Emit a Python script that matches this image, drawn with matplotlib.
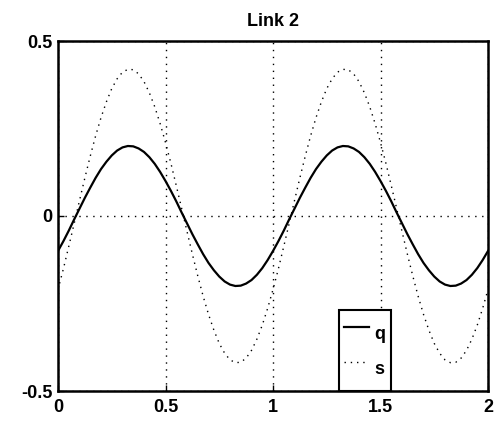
import matplotlib.pyplot as plt

# 数据：x 每 0.025 取一个点
x = [i * 0.025 for i in range(81)]

q = [-0.100, -0.072, -0.042, -0.010, 0.021, 0.052, 0.081, 0.109, 0.134, 0.155,
     0.173, 0.187, 0.196, 0.200, 0.199, 0.193, 0.183, 0.168, 0.149, 0.126,
     0.100, 0.072, 0.042, 0.010, -0.021, -0.052, -0.081, -0.109, -0.134, -0.155,
     -0.173, -0.187, -0.196, -0.200, -0.199, -0.193, -0.183, -0.168, -0.149, -0.126,
     -0.100, -0.072, -0.042, -0.010, 0.021, 0.052, 0.081, 0.109, 0.134, 0.155,
     0.173, 0.187, 0.196, 0.200, 0.199, 0.193, 0.183, 0.168, 0.149, 0.126,
     0.100, 0.072, 0.042, 0.010, -0.021, -0.052, -0.081, -0.109, -0.134, -0.155,
     -0.173, -0.187, -0.196, -0.200, -0.199, -0.193, -0.183, -0.168, -0.149, -0.126,
     -0.100]

s = [-0.210, -0.151, -0.087, -0.022, 0.044, 0.109, 0.171, 0.229, 0.281, 0.326,
     0.364, 0.392, 0.411, 0.419, 0.418, 0.406, 0.384, 0.352, 0.312, 0.264,
     0.210, 0.151, 0.087, 0.022, -0.044, -0.109, -0.171, -0.229, -0.281, -0.326,
     -0.364, -0.392, -0.411, -0.419, -0.418, -0.406, -0.384, -0.352, -0.312, -0.264,
     -0.210, -0.151, -0.087, -0.022, 0.044, 0.109, 0.171, 0.229, 0.281, 0.326,
     0.364, 0.392, 0.411, 0.419, 0.418, 0.406, 0.384, 0.352, 0.312, 0.264,
     0.210, 0.151, 0.087, 0.022, -0.044, -0.109, -0.171, -0.229, -0.281, -0.326,
     -0.364, -0.392, -0.411, -0.419, -0.418, -0.406, -0.384, -0.352, -0.312, -0.264,
     -0.210]

xticks = [0, 0.5, 1, 1.5, 2]
xtick_labels = ['0', '0.5', '1', '1.5', '2']
yticks = [-0.5, 0, 0.5]
ytick_labels = ['-0.5', '0', '0.5']

plt.rcParams['font.family'] = ['Liberation Sans', 'DejaVu Sans']
plt.rcParams['font.weight'] = 'bold'

fig = plt.figure(figsize=(4.97, 4.22), dpi=100)
ax = fig.add_axes([58 / 497, 1 - 391 / 422, 430 / 497, 350 / 422])

ax.plot(x, q, color='black', linewidth=1.6, label='q')
ax.plot(x, s, color='black', linewidth=1.0, linestyle=(0, (1, 3.5)), label='s')

ax.set_xlim(0, 2)
ax.set_ylim(-0.5, 0.5)
ax.set_xticks(xticks)
ax.set_xticklabels(xtick_labels)
ax.set_yticks(yticks)
ax.set_yticklabels(ytick_labels)
ax.tick_params(direction='in', length=4, width=1, labelsize=13)
ax.tick_params(axis='x', pad=6)
ax.tick_params(axis='y', pad=4)
for sp in ax.spines.values():
    sp.set_linewidth(1.8)

# 网格：黑色点线
ax.grid(True, color='black', linestyle=(0, (1, 4)), linewidth=1.0)

ax.set_title('Link 2', fontsize=13, fontweight='bold', pad=11)

leg = ax.legend(loc='lower left', bbox_to_anchor=(1.307, -0.5),
                bbox_transform=ax.transData, borderaxespad=0,
                fontsize=13, handlelength=1.35, handletextpad=0.3,
                handleheight=2.6, labelspacing=0.0, borderpad=0.3,
                fancybox=False, framealpha=1, edgecolor='black')
leg.get_frame().set_linewidth(1.5)

fig.savefig('out.png', dpi=100)
